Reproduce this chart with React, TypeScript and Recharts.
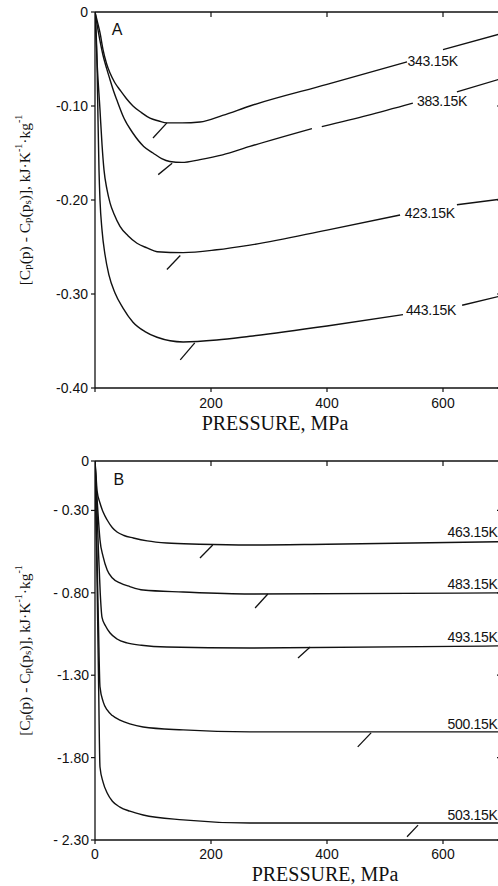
import React from 'react';
import { LineChart, Line, XAxis, YAxis, ReferenceLine, ReferenceDot } from 'recharts';

type Pt = [number, number | null];

// ---------- Panel A : [pressure (MPa), Cp(p) - Cp(ps) (kJ/K/kg)] ----------
const a343: Pt[] = [[0, 0], [4, -0.01], [8.6, -0.022], [13.8, -0.04], [20, -0.055], [25.9, -0.065], [34, -0.075], [43.1, -0.083], [54, -0.092], [65.5, -0.1], [80, -0.107], [94.8, -0.113], [110, -0.116], [124, -0.118], [150, -0.118], [181, -0.117], [220, -0.11], [267, -0.1], [400, -0.077], [538, -0.053], [560, null], [600, -0.04], [700, -0.023]];
const a383: Pt[] = [[0, 0], [6, -0.022], [13.8, -0.046], [20, -0.06], [25.9, -0.072], [32, -0.084], [37.9, -0.094], [50, -0.113], [65.5, -0.129], [84, -0.143], [100, -0.15], [115, -0.156], [129, -0.159], [150, -0.16], [181, -0.157], [220, -0.152], [267, -0.143], [374, -0.124], [380, null], [391, -0.122], [470, -0.11], [548, -0.097], [580, null], [624, -0.085], [700, -0.071]];
const a423: Pt[] = [[0, 0], [3.4, -0.051], [8.6, -0.104], [12.1, -0.141], [15.5, -0.168], [20.7, -0.189], [25.9, -0.203], [32.8, -0.215], [43.1, -0.228], [56.9, -0.238], [72.4, -0.246], [89.7, -0.251], [107, -0.255], [152, -0.256], [210, -0.253], [267, -0.248], [400, -0.232], [526, -0.216], [560, null], [624, -0.205], [700, -0.199]];
const a443: Pt[] = [[0, 0], [3.4, -0.051], [5.2, -0.115], [6.9, -0.168], [8.6, -0.2], [12.1, -0.232], [17.2, -0.258], [24.1, -0.28], [34.5, -0.299], [48.3, -0.315], [65.5, -0.33], [86.2, -0.34], [107, -0.346], [152, -0.351], [210, -0.349], [267, -0.345], [400, -0.334], [531, -0.322], [570, null], [633, -0.312], [700, -0.302]];
const curvesA = [a343, a383, a423, a443];
const namesA = ['343.15K', '383.15K', '423.15K', '443.15K'];
const labelAtA: [number, number][] = [[539, -0.052], [555, -0.095], [534, -0.214], [536, -0.317]];
const marksA: [number, number, number, number][] = [[100, -0.134, 124, -0.118], [109, -0.173, 133, -0.161], [124, -0.274, 147, -0.259], [147, -0.37, 172, -0.352]];

// ---------- Panel B ----------
const b463: Pt[] = [[0, 0], [2, -0.1], [3.5, -0.18], [8.6, -0.255], [14, -0.31], [21, -0.358], [30, -0.405], [38, -0.431], [50, -0.452], [66, -0.467], [90, -0.485], [124, -0.498], [180, -0.505], [267, -0.51], [400, -0.505], [700, -0.49]];
const b483: Pt[] = [[0, 0], [3, -0.2], [6, -0.36], [8.6, -0.479], [14, -0.58], [21, -0.661], [30, -0.71], [43, -0.74], [60, -0.762], [83, -0.783], [152, -0.795], [267, -0.807], [700, -0.8]];
const b493: Pt[] = [[0, 0], [3, -0.25], [6, -0.55], [9, -0.8], [12, -0.947], [18, -1.0], [26, -1.044], [38, -1.08], [55, -1.104], [80, -1.118], [124, -1.129], [267, -1.135], [700, -1.122]];
const b500: Pt[] = [[0, 0], [3, -0.5], [6, -1.0], [8.6, -1.371], [14, -1.46], [21, -1.511], [30, -1.545], [43, -1.572], [60, -1.595], [83, -1.614], [152, -1.632], [267, -1.644], [700, -1.644]];
const b503: Pt[] = [[0, 0], [3, -0.6], [6, -1.3], [8.6, -1.857], [14, -1.95], [21, -2.015], [30, -2.065], [43, -2.1], [60, -2.125], [83, -2.148], [152, -2.178], [267, -2.197], [700, -2.197]];
const curvesB = [b463, b483, b493, b500, b503];
const namesB = ['463.15K', '483.15K', '493.15K', '500.15K', '503.15K'];
const labelAtB: [number, number][] = [[694, -0.431], [694, -0.746], [694, -1.068], [694, -1.596], [694, -2.148]];
const marksB: [number, number, number, number][] = [[181, -0.589, 203, -0.51], [276, -0.892, 298, -0.807], [350, -1.195, 371, -1.129], [453, -1.735, 476, -1.65], [538, -2.28, 557, -2.21]];

// ---------- Axes ----------
const xDomain: [number, number] = [0, 700];
const xTicks = [0, 200, 400, 600];
const xTopTicks = [200, 400, 600];
const xTickLabelsA = ['', '200', '400', '600'];
const xTickLabelsB = ['0', '200', '400', '600'];
const yTicksA = [0, -0.1, -0.2, -0.3, -0.4];
const yTickLabelsA = ['0', '-0.10', '-0.20', '-0.30', '-0.40'];
const yTicksB = [0, -0.3, -0.8, -1.3, -1.8, -2.3];
const yTickLabelsB = ['0', '- 0.30', '- 0.80', '-1.30', '-1.80', '- 2.30'];

const INK = '#111';
const SANS = '"Liberation Sans", Arial, Helvetica, sans-serif';
const SERIF = '"Liberation Serif", "DejaVu Serif", serif';

const CHART_W = 520;
const Y_AXIS_W = 95;
const X_AXIS_H = 30;

const toData = (pts: Pt[]) => pts.map(([p, v]) => ({ p, v }));
const lookup = (ticks: number[], labels: string[]) => (v: number) => {
  let best = 0;
  ticks.forEach((t, i) => { if (Math.abs(t - v) < Math.abs(ticks[best] - v)) best = i; });
  return labels[best];
};

function XTitle(props: any) {
  const vb = props.viewBox || {};
  const x = (vb.x ?? 95) + (vb.width ?? 406) / 2 + props.shift;
  const y = (vb.y ?? 388) + props.down;
  return (
    <text x={x} y={y} textAnchor="middle" fontFamily={SERIF} fontSize={20} fill={INK}>
      PRESSURE, MPa
    </text>
  );
}

function YTitle(props: any) {
  const vb = props.viewBox || {};
  const cy = (vb.y ?? 0) + (vb.height ?? 0) / 2;
  const cx = 24;
  return (
    <text x={cx} y={cy} transform={`rotate(-90 ${cx} ${cy})`} textAnchor="middle" dominantBaseline="central" fontFamily={SERIF} fontSize={15.5} fill={INK}>
      [C<tspan dy="3" fontSize="11">p</tspan>
      <tspan dy="-3">(p) - C</tspan>
      <tspan dy="3" fontSize="11">p</tspan>
      <tspan dy="-3">(p</tspan>
      <tspan dy="3" fontSize="11">s</tspan>
      <tspan dy="-3">)], kJ·K</tspan>
      <tspan dy="-6" fontSize="10">-1</tspan>
      <tspan dy="6">·kg</tspan>
      <tspan dy="-6" fontSize="10">-1</tspan>
    </text>
  );
}

function TextAt(props: any) {
  const vb = props.viewBox || {};
  return (
    <text x={vb.x} y={vb.y} textAnchor={props.anchor} dominantBaseline="central" fontFamily={SANS} fontSize={props.size} fill={INK} letterSpacing={props.ls ?? 0}>
      {props.text}
    </text>
  );
}

type PanelProps = {
  top: number; height: number; margin: any; yDomain: [number, number];
  yTicks: number[]; yLabels: string[]; xLabels: string[];
  curves: Pt[][]; names: string[]; labelAt: [number, number][]; labelAnchor: string;
  marks: [number, number, number, number][]; letter: string; letterAt: [number, number];
  titleShift: number; titleDown: number; yTickMargin: number; xTickMargin: number;
};

const axisStroke = { stroke: INK, strokeWidth: 1.3 };
const tickStroke = { stroke: INK, strokeWidth: 1.2 };

// Top frame of the plot box, laid out from the same layout constants the chart uses.
function TopFrame({ margin, height }: { margin: any; height: number }) {
  const left = margin.left + Y_AXIS_W;
  const right = CHART_W - margin.right;
  const y = margin.top;
  const sx = (t: number) => left + ((t - xDomain[0]) / (xDomain[1] - xDomain[0])) * (right - left);
  return (
    <svg width={CHART_W} height={height} style={{ position: 'absolute', left: 0, top: 0, pointerEvents: 'none', overflow: 'visible' }}>
      <line x1={left} y1={y} x2={right} y2={y} stroke={INK} strokeWidth={1.3} />
      {xTopTicks.map((t) => (
        <line key={t} x1={sx(t)} y1={y} x2={sx(t)} y2={y + 5} stroke={INK} strokeWidth={1.2} />
      ))}
    </svg>
  );
}

function Panel(p: PanelProps) {
  const rightTickLen = 4 / 0.58; // inward tick on the right frame (4 px)
  const yMax = p.yDomain[1];
  return (
    <div style={{ position: 'absolute', left: 0, top: p.top, width: CHART_W, height: p.height }}>
      <LineChart width={CHART_W} height={p.height} margin={p.margin}>
        <XAxis type="number" dataKey="p" domain={xDomain} ticks={xTicks} interval={0} allowDataOverflow
          tickFormatter={lookup(xTicks, p.xLabels)} tickSize={4} tickMargin={p.xTickMargin} height={X_AXIS_H}
          tick={{ fontFamily: SANS, fontSize: 14, fill: INK }}
          axisLine={axisStroke} tickLine={tickStroke}
          label={<XTitle shift={p.titleShift} down={p.titleDown} />} />
        <YAxis type="number" domain={p.yDomain} ticks={p.yTicks} interval={0} width={Y_AXIS_W} allowDataOverflow
          tickFormatter={lookup(p.yTicks, p.yLabels)} tickSize={4} tickMargin={p.yTickMargin}
          tick={{ fontFamily: SANS, fontSize: 14, fill: INK }}
          axisLine={axisStroke} tickLine={tickStroke}
          label={<YTitle />} />
        {/* right frame ticks (frame itself lies just past the page edge) */}
        {p.yTicks.filter((t) => t !== yMax).map((t) => (
          <ReferenceLine key={'rt' + t} segment={[{ x: xDomain[1] - rightTickLen, y: t }, { x: xDomain[1], y: t }]} stroke={INK} strokeWidth={1.2} ifOverflow="visible" />
        ))}
        {p.curves.map((c, i) => (
          <Line key={p.names[i]} data={toData(c)} dataKey="v" type="monotone" stroke={INK} strokeWidth={1.4}
            dot={false} activeDot={false} connectNulls={false} isAnimationActive={false} />
        ))}
        {p.marks.map((m, i) => (
          <ReferenceLine key={'m' + i} segment={[{ x: m[0], y: m[1] }, { x: m[2], y: m[3] }]} stroke={INK} strokeWidth={1.3} ifOverflow="visible" />
        ))}
        {p.names.map((n, i) => (
          <ReferenceDot key={'l' + i} x={p.labelAt[i][0]} y={p.labelAt[i][1]} r={0} fill="none" stroke="none"
            label={<TextAt text={n} anchor={p.labelAnchor} size={14} ls={-0.3} />} />
        ))}
        <ReferenceDot x={p.letterAt[0]} y={p.letterAt[1]} r={0} fill="none" stroke="none"
          label={<TextAt text={p.letter} anchor="middle" size={16} />} />
      </LineChart>
      <TopFrame margin={p.margin} height={p.height} />
    </div>
  );
}

export default function App() {
  return (
    <div style={{ position: 'absolute', left: 0, top: 0, width: 498, height: 886, overflow: 'hidden', background: '#fff' }}>
      <Panel top={0} height={440} margin={{ top: 12, right: 19, left: 0, bottom: 22 }} yDomain={[-0.4, 0]}
        yTicks={yTicksA} yLabels={yTickLabelsA} xLabels={xTickLabelsA}
        curves={curvesA} names={namesA} labelAt={labelAtA} labelAnchor="start" marks={marksA}
        letter="A" letterAt={[38, -0.019]} titleShift={-23} titleDown={42} yTickMargin={3} xTickMargin={6} />
      <Panel top={440} height={446} margin={{ top: 21, right: 19, left: 0, bottom: 16 }} yDomain={[-2.3, 0]}
        yTicks={yTicksB} yLabels={yTickLabelsB} xLabels={xTickLabelsB}
        curves={curvesB} names={namesB} labelAt={labelAtB} labelAnchor="end" marks={marksB}
        letter="B" letterAt={[41, -0.115]} titleShift={27} titleDown={41} yTickMargin={2} xTickMargin={5} />
    </div>
  );
}
